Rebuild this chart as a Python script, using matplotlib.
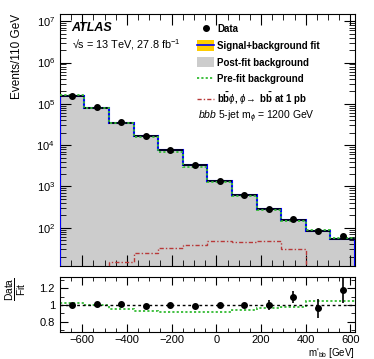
import numpy as np
import matplotlib
matplotlib.use('Agg')
import matplotlib.pyplot as plt
from matplotlib.lines import Line2D
from matplotlib.patches import Patch
from matplotlib.ticker import MultipleLocator, LogLocator, FuncFormatter, NullFormatter

plt.rcParams['font.family'] = ['Liberation Sans', 'DejaVu Sans']
plt.rcParams['mathtext.fontset'] = 'custom'
plt.rcParams['mathtext.rm'] = 'Liberation Sans'
plt.rcParams['mathtext.it'] = 'Liberation Sans:italic'
plt.rcParams['mathtext.bf'] = 'Liberation Sans:bold'
plt.rcParams['mathtext.sf'] = 'Liberation Sans'

# ---------------- data ----------------
bin_edges = [-700, -590, -480, -370, -260, -150, -40, 70, 180, 290, 400, 510, 620]
data = [1.55e5, 8.2e4, 3.56e4, 1.66e4, 7.5e3, 3.25e3, 1.37e3, 620, 279, 165, 82, 64]
fit = [1.55e5, 8.12e4, 3.52e4, 1.68e4, 7.5e3, 3.28e3, 1.37e3, 620, 279, 151, 85.4, 54.2]
fit_rel_unc = [0.01, 0.01, 0.01, 0.01, 0.01, 0.01, 0.015, 0.02, 0.03, 0.03, 0.04, 0.06]
prefit_ratio = [1.03, 0.995, 0.955, 0.935, 0.92, 0.92, 0.92, 0.945, 0.97, 0.98, 1.05, 1.05]
signal = [4, 8, 15, 25, 33, 38, 48, 44, 48, 30, 6, 3]
ratio_err = [0.004, 0.005, 0.006, 0.008, 0.01, 0.012, 0.016, 0.028, 0.055, 0.07, 0.115, 0.155]

edges = np.array(bin_edges, dtype=float)
centers = 0.5 * (edges[:-1] + edges[1:])
data_a = np.array(data)
fit_a = np.array(fit)
unc = np.array(fit_rel_unc)
prefit = fit_a * np.array(prefit_ratio)
ratio = data_a / fit_a

fig = plt.figure(figsize=(3.74, 3.59), dpi=100)
ax = fig.add_axes([0.160, 0.259, 0.789, 0.702])
rax = fig.add_axes([0.160, 0.0752, 0.789, 0.1524])

grey = '#cccccc'
yellow = '#ffcc00'
blue = '#0000ff'
green = '#33bb33'
red = '#b83838'

# main panel
ax.stairs(fit_a, edges, baseline=1, fill=True, color=grey, zorder=1)
ax.stairs(fit_a * (1 + unc), edges, baseline=fit_a * (1 - unc), fill=True,
          color=yellow, zorder=2)
ax.stairs(fit_a, edges, baseline=1, color=blue, lw=1.5, zorder=3)
ax.hlines(fit_a, edges[:-1], edges[1:], color='black', lw=1.2, zorder=4)
ax.stairs(prefit, edges, baseline=None, color=green, lw=1.3,
          ls=(0, (1.2, 1.2)), zorder=5)
ax.stairs(np.array(signal, dtype=float), edges, baseline=None, color=red, lw=1.0,
          ls=(0, (3, 1.5, 1, 1.5)), zorder=5)
ax.plot(centers, data_a, 'o', color='black', ms=4, zorder=6)

ax.set_yscale('log')
ax.set_ylim(11.8, 1.5e7)
ax.set_xlim(-700, 620)
ax.yaxis.set_major_locator(LogLocator(base=10, numticks=20))
ax.yaxis.set_minor_locator(LogLocator(base=10, subs=np.arange(2, 10), numticks=20))
ax.yaxis.set_minor_formatter(NullFormatter())
ax.xaxis.set_major_locator(MultipleLocator(200))
ax.xaxis.set_minor_locator(MultipleLocator(50))
ax.tick_params(which='both', direction='in', top=True, right=True,
               labelbottom=False, labelsize=8)
ax.tick_params(which='major', length=8)
ax.tick_params(which='minor', length=4)
ax.set_ylabel('Events/110 GeV', loc='top', fontsize=8.5)
ax.yaxis.set_label_coords(-0.125, 1.0)

ax.text(0.037, 0.943, 'ATLAS', transform=ax.transAxes, fontweight='bold',
        fontstyle='italic', fontsize=9, va='center', ha='left')
ax.text(0.04, 0.877, '√s = 13 TeV, 27.8 fb$^{-1}$', transform=ax.transAxes,
        fontsize=7.8, va='center', ha='left')
ax.text(0.468, 0.592, r'$\it{bbb}$ 5-jet m$_{\phi}$ = 1200 GeV', transform=ax.transAxes,
        fontsize=7.5, va='center', ha='left')

handles = [
    Line2D([], [], marker='o', color='black', ls='none', ms=4),
    (Patch(facecolor=yellow, edgecolor='none'), Line2D([], [], color=blue, lw=1.2)),
    Patch(facecolor=grey, edgecolor='none'),
    Line2D([], [], color=green, lw=1.3, ls=(0, (1.2, 1.2))),
    Line2D([], [], color=red, lw=1.0, ls=(0, (3, 1.5, 1, 1.5))),
]
labels = ['Data', 'Signal+background fit', 'Post-fit background', 'Pre-fit background',
          r'$\mathbf{b\bar{b}}\phi$, $\phi\!\rightarrow$ $\mathbf{b\bar{b}}$ at 1 pb']
ax.legend(handles, labels, loc='upper left', bbox_to_anchor=(0.465, 0.962),
          frameon=False, prop={'weight': 'bold', 'size': 7}, handlelength=1.75,
          handleheight=1.24, labelspacing=0.66, handletextpad=0.35,
          borderpad=0, borderaxespad=0)

# ratio panel
rax.stairs(np.array(prefit_ratio), edges, baseline=None, color=green, lw=1.3,
           ls=(0, (1.2, 1.2)), zorder=2)
rax.axhline(1.0, color='black', lw=1.0, ls=(0, (2, 2)), zorder=3)
rax.errorbar(centers, ratio, yerr=ratio_err, fmt='o', color='black', ms=4,
             elinewidth=1.2, capsize=0, zorder=4)
rax.set_xlim(-700, 620)
rax.set_ylim(0.68, 1.33)
rax.yaxis.set_major_locator(MultipleLocator(0.2))
rax.yaxis.set_minor_locator(MultipleLocator(0.1))
rax.yaxis.set_major_formatter(FuncFormatter(lambda v, p: '%g' % round(v, 3)))
rax.xaxis.set_major_locator(MultipleLocator(200))
rax.xaxis.set_minor_locator(MultipleLocator(50))
rax.tick_params(which='both', direction='in', top=True, right=True, labelsize=8)
rax.tick_params(axis='x', which='major', pad=2.5)
rax.tick_params(which='major', length=6)
rax.tick_params(which='minor', length=3)
rax.set_ylabel(r'$\frac{\rm Data}{\rm Fit}$', loc='top', fontsize=10.5)
rax.yaxis.set_label_coords(-0.105, 1.0)
rax.set_xlabel(r"m$'_{\rm bb}$ [GeV]", loc='right', fontsize=7)
rax.xaxis.set_label_coords(1.0, -0.255)

fig.savefig('out.png', dpi=100)
